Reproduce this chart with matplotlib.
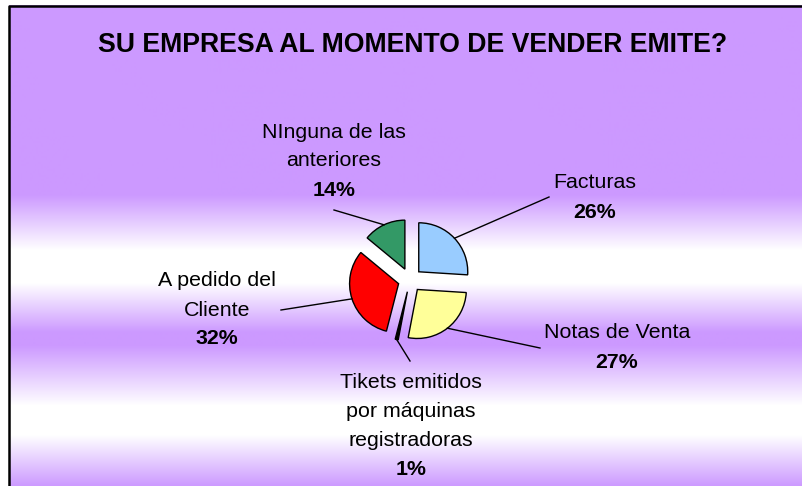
import numpy as np
import matplotlib
matplotlib.use('Agg')
import matplotlib.pyplot as plt

plt.rcParams['font.family'] = ['Liberation Sans', 'DejaVu Sans']

titulo = 'SU EMPRESA AL MOMENTO DE VENDER EMITE?'
nombres = ['Facturas', 'Notas de Venta', 'Tikets emitidos\npor máquinas\nregistradoras',
           'A pedido del\nCliente', 'NInguna de las\nanteriores']
valores = [26, 27, 1, 32, 14]
colores = ['#99CCFF', '#FFFF99', '#000000', '#FF0000', '#339966']

W, H = 802, 486

def fy(y):
    # image row -> axes y (y up)
    return H - y

# label anchors: (x centre, y of first line, end of leader line)
etiquetas = [
    (595, 183, (549, 197)),
    (617, 333, (540, 348)),
    (411, 382, (410, 361)),
    (217, 281, (281, 310)),
    (334, 132, (334, 210)),
]

fig = plt.figure(figsize=(W / 100, H / 100), dpi=100)
ax = fig.add_axes([0, 0, 1, 1])

# background gradient of the chart area
stops_y = [6, 195, 250, 283, 332, 345, 405, 435, 486]
stops_c = ['#CC99FF', '#CC99FF', '#FFFFFF', '#FFFFFF', '#CC99FF', '#CC99FF',
           '#FFFFFF', '#FFFFFF', '#CC99FF']
rgb = np.array([matplotlib.colors.to_rgb(c) for c in stops_c])
rows = np.arange(6, H)
grad = np.stack([np.interp(rows, stops_y, rgb[:, k]) for k in range(3)], axis=1)
grad = np.repeat(grad[:, None, :], 2, axis=1)

cx, cy, r = 410, 280, 49
# explode is in data units here (pixels)
wedges, _ = ax.pie(valores, colors=colores, startangle=90, counterclock=False,
                   explode=[12] * len(valores), radius=r, center=(cx, fy(cy)),
                   wedgeprops=dict(edgecolor='black', linewidth=1.0))
ax.set_xlim(0, W)
ax.set_ylim(0, H)
ax.axis('off')
ax.imshow(grad, extent=(9, W, 0, fy(6)), aspect='auto', zorder=0)
ax.plot([9, 9, W], [0, fy(6), fy(6)], color='black', lw=1.8, zorder=1,
        solid_capstyle='butt')

ax.text(413, fy(45), titulo, ha='center', va='center', fontsize=19.2,
        fontweight='bold')

paso = 29
for w, nombre, v, (tx, ty, fin) in zip(wedges, nombres, valores, etiquetas):
    ang = np.deg2rad((w.theta1 + w.theta2) / 2)
    ox, oy = w.center
    ax.plot([ox + w.r * np.cos(ang), fin[0]], [oy + w.r * np.sin(ang), fy(fin[1])],
            color='black', lw=1.0, zorder=3)
    lineas = nombre.split('\n')
    for i, l in enumerate(lineas):
        ax.text(tx, fy(ty + i * paso), l, ha='center', va='center', fontsize=15.4)
    ax.text(tx, fy(ty + len(lineas) * paso), f'{v}%', ha='center', va='center',
            fontsize=15.4, fontweight='bold')

fig.savefig('out.png', dpi=100)
